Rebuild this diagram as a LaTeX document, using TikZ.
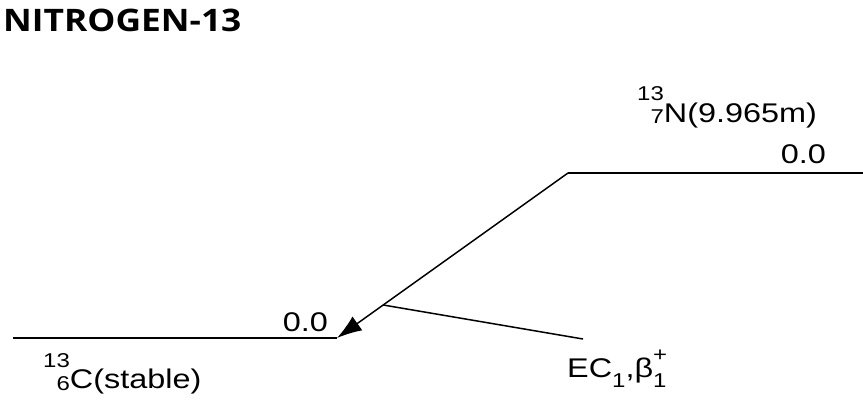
\documentclass[tikz,border=0pt]{standalone}
\usepackage{fontspec}
\setmainfont[FakeStretch=1.2]{Liberation Sans}
\newfontfamily\titlefont[FakeStretch=1.14]{Open Sans}
\usetikzlibrary{arrows.meta}
\usetikzlibrary{calc}
% small raised / lowered figures
\newcommand{\sm}{\fontsize{20}{20}\selectfont}
\newcommand{\up}[2]{\raisebox{#1}{\sm #2}}
\newcommand{\nuc}[3]{\up{21pt}{#1}\llap{\up{-2pt}{#2}}#3}

\begin{document}
\begin{tikzpicture}[x=1pt,y=-1pt,
    level/.style = {line width=1.5pt},
    lbl/.style = {font=\fontsize{27}{30}\selectfont, inner sep=0pt}
                    ]
        \useasboundingbox (0,0) rectangle (863,404);
        \node[anchor=base west, inner sep=0pt,
              font=\titlefont\bfseries\fontsize{31}{34}\selectfont] (title) at (3,32) {NITROGEN-13};
        % levels
        \coordinate (cl) at (13,338);
        \coordinate (cr) at (337,338);
        \coordinate (nl) at (568,173);
        \coordinate (nr) at (863,173);
        \draw [level] (cl) -- (cr);
        \draw [level] (nl) -- (nr);
        % decay
        \draw [level, -{Latex[length=25pt,width=17pt]}] (nl) -- (cr);
        \coordinate (br) at ($(nl)!0.8!(cr)$);
        \coordinate (ec) at (583,339);
        \draw [level] (br) -- (ec);
        % labels
        \node[lbl, anchor=base east] (ce) at (328,331) {0.0};
        \node[lbl, anchor=base east] (ne) at (826,163) {0.0};
        \node[lbl, anchor=base west] (cn) at (43,388) {\nuc{13}{6}{C}(stable)};
        \node[lbl, anchor=base west] (nn) at (637,122) {\nuc{13}{7}{N}(9.965m)};
        \node[lbl, anchor=base west] (mode) at (567,377) {EC\up{-10pt}{1},β\rlap{\up{16pt}{+}}\up{-10pt}{1}};
    \end{tikzpicture}
\end{document}
